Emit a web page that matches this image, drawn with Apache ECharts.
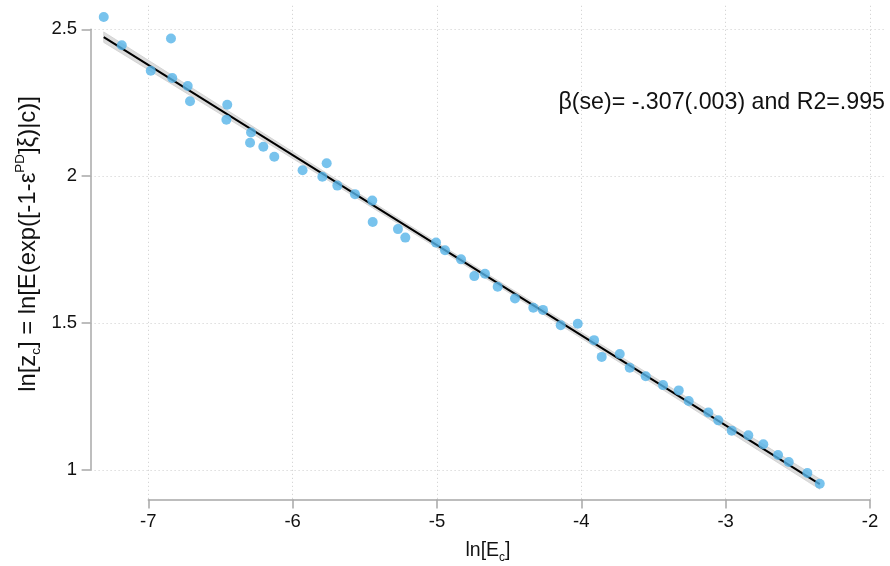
<!DOCTYPE html>
<html><head><meta charset="utf-8">
<script src="https://cdn.jsdelivr.net/npm/echarts@6/dist/echarts.min.js"></script>
<style>html,body{margin:0;padding:0;background:#fff}#c{width:890px;height:566px}</style>
</head><body><div id="c"></div>
<script>
// ---- data ----
const lnE = [-7.309,-7.184,-6.983,-6.843,-6.834,-6.727,-6.711,-6.453,-6.459,-6.288,
  -6.295,-6.203,-6.127,-5.931,-5.794,-5.764,-5.690,-5.568,-5.448,-5.445,
  -5.270,-5.219,-5.006,-4.944,-4.833,-4.741,-4.667,-4.579,-4.459,-4.332,
  -4.265,-4.142,-4.024,-3.911,-3.858,-3.733,-3.664,-3.553,-3.433,-3.324,
  -3.255,-3.119,-3.050,-2.957,-2.842,-2.738,-2.636,-2.562,-2.433,-2.347];
const lnZ = [2.542,2.446,2.359,2.469,2.334,2.307,2.255,2.243,2.192,2.149,
  2.114,2.100,2.066,2.020,1.998,2.044,1.968,1.939,1.917,1.844,
  1.820,1.791,1.774,1.748,1.717,1.660,1.668,1.624,1.584,1.552,
  1.545,1.493,1.498,1.442,1.385,1.395,1.348,1.319,1.289,1.271,
  1.235,1.196,1.169,1.134,1.118,1.088,1.051,1.027,0.990,0.953];
const xTicks = [-7, -6, -5, -4, -3, -2];
const yTicks = [1, 1.5, 2, 2.5];
const annotation = 'β(se)= -.307(.003) and R2=.995';
const xTitle = '{m|ln[E}{s|c}{m|]}';
const yTitle = '{m|ln[z}{s|c}{m|] = ln[E(exp([-1-ε}{p|PD}{m|]ξ)|c)]}';

// ---- OLS fit and 95% CI of the mean, derived from the data ----
const n = lnE.length;
const mx = lnE.reduce((a, v) => a + v, 0) / n;
const my = lnZ.reduce((a, v) => a + v, 0) / n;
let sxx = 0, sxy = 0;
for (let i = 0; i < n; i++) { sxx += (lnE[i]-mx)**2; sxy += (lnE[i]-mx)*(lnZ[i]-my); }
const b = sxy / sxx, a = my - b * mx;
let sse = 0;
for (let i = 0; i < n; i++) sse += (lnZ[i] - a - b*lnE[i])**2;
const s = Math.sqrt(sse / (n - 2));
const tcrit = 2.011;
const xsSorted = lnE.slice().sort((p, q) => p - q);
const xmin = xsSorted[0], xmax = xsSorted[n-1];
const fitLine = [[xmin, a + b*xmin], [xmax, a + b*xmax]];
const band = xsSorted.map(x => {
  const se = s * Math.sqrt(1/n + (x-mx)**2 / sxx);
  return [x, a + b*x - tcrit*se, a + b*x + tcrit*se];
});
const points = lnE.map((x, i) => [x, lnZ[i]]);

const FONT = 'Liberation Sans, Arial, sans-serif';
const AXC = '#a8a8a8';
const gridLine = { show: true, lineStyle: { color: '#cccccc', type: [1, 3], width: 1 } };

const chart = echarts.init(document.getElementById('c'), null, { renderer: 'canvas' });
chart.setOption({
  animation: false,
  backgroundColor: '#fff',
  grid: [
    { left: 90.6, right: 5.75, top: 5.8, bottom: 66.6 },
    { left: 148.3, right: 20, top: 5.8, bottom: 66.6 },
    { left: 90.6, right: 5.75, top: 29.3, bottom: 96 }
  ],
  xAxis: [
    { gridIndex: 0, type: 'value', min: -7.4, max: -1.9, show: false },
    { gridIndex: 1, type: 'value', min: xTicks[0], max: xTicks[xTicks.length-1], interval: 1,
      offset: 3.3,
      axisLine: { show: true, lineStyle: { color: AXC, width: 1.5 } },
      axisTick: { show: true, length: 9, lineStyle: { color: AXC, width: 1.5 } },
      axisLabel: { color: '#111', fontSize: 18.5, fontFamily: FONT, margin: 10 },
      splitLine: gridLine },
    { gridIndex: 2, type: 'value', min: -7.4, max: -1.9, show: false }
  ],
  yAxis: [
    { gridIndex: 0, type: 'value', min: 0.9, max: 2.58, show: false },
    { gridIndex: 1, type: 'value', min: 0, max: 1, show: false },
    { gridIndex: 2, type: 'value', min: yTicks[0], max: yTicks[yTicks.length-1], interval: 0.5,
      axisLine: { show: true, lineStyle: { color: AXC, width: 1.5 } },
      axisTick: { show: true, length: 9, lineStyle: { color: AXC, width: 1.5 } },
      axisLabel: { color: '#111', fontSize: 18.5, fontFamily: FONT, margin: 13.5 },
      splitLine: gridLine }
  ],
  series: [
    { type: 'custom', xAxisIndex: 0, yAxisIndex: 0, silent: true, z: 2,
      data: [0],
      renderItem: function (params, api) {
        const up = band.map(p => api.coord([p[0], p[2]]));
        const lo = band.map(p => api.coord([p[0], p[1]])).reverse();
        return { type: 'polygon', shape: { points: up.concat(lo) },
          style: { fill: '#dcdcdc', stroke: '#cfcfcf', lineWidth: 0.8 } };
      } },
    { type: 'line', xAxisIndex: 0, yAxisIndex: 0, data: fitLine, z: 3,
      showSymbol: false, lineStyle: { color: '#000', width: 2 } },
    { type: 'scatter', xAxisIndex: 0, yAxisIndex: 0, data: points, z: 4,
      symbol: 'circle', symbolSize: 10, itemStyle: { color: '#56b4e9' } }
  ],
  graphic: [
    { type: 'text', x: 885, y: 103, z: 10,
      style: { text: annotation, fontSize: 23.2, fontFamily: FONT, fill: '#111',
               align: 'right', verticalAlign: 'middle' } },
    { type: 'text', x: 488, y: 549, z: 10,
      style: { text: xTitle, align: 'center', verticalAlign: 'middle', fill: '#111',
        rich: { m: { fontSize: 19.5, fontFamily: FONT, lineHeight: 24, verticalAlign: 'bottom', fill: '#111' },
                s: { fontSize: 12, fontFamily: FONT, lineHeight: 24, verticalAlign: 'bottom', padding: [0,0,-3,0], fill: '#111' } } } },
    { type: 'text', x: 28, y: 244, rotation: Math.PI / 2, z: 10,
      style: { text: yTitle, align: 'center', verticalAlign: 'middle', fill: '#111',
        rich: { m: { fontSize: 23.8, fontFamily: FONT, lineHeight: 30, verticalAlign: 'middle', fill: '#111' },
                s: { fontSize: 13.5, fontFamily: FONT, lineHeight: 30, verticalAlign: 'bottom', fill: '#111' },
                p: { fontSize: 13.5, fontFamily: FONT, lineHeight: 30, verticalAlign: 'top', fill: '#111' } } } }
  ]
});
</script></body></html>
